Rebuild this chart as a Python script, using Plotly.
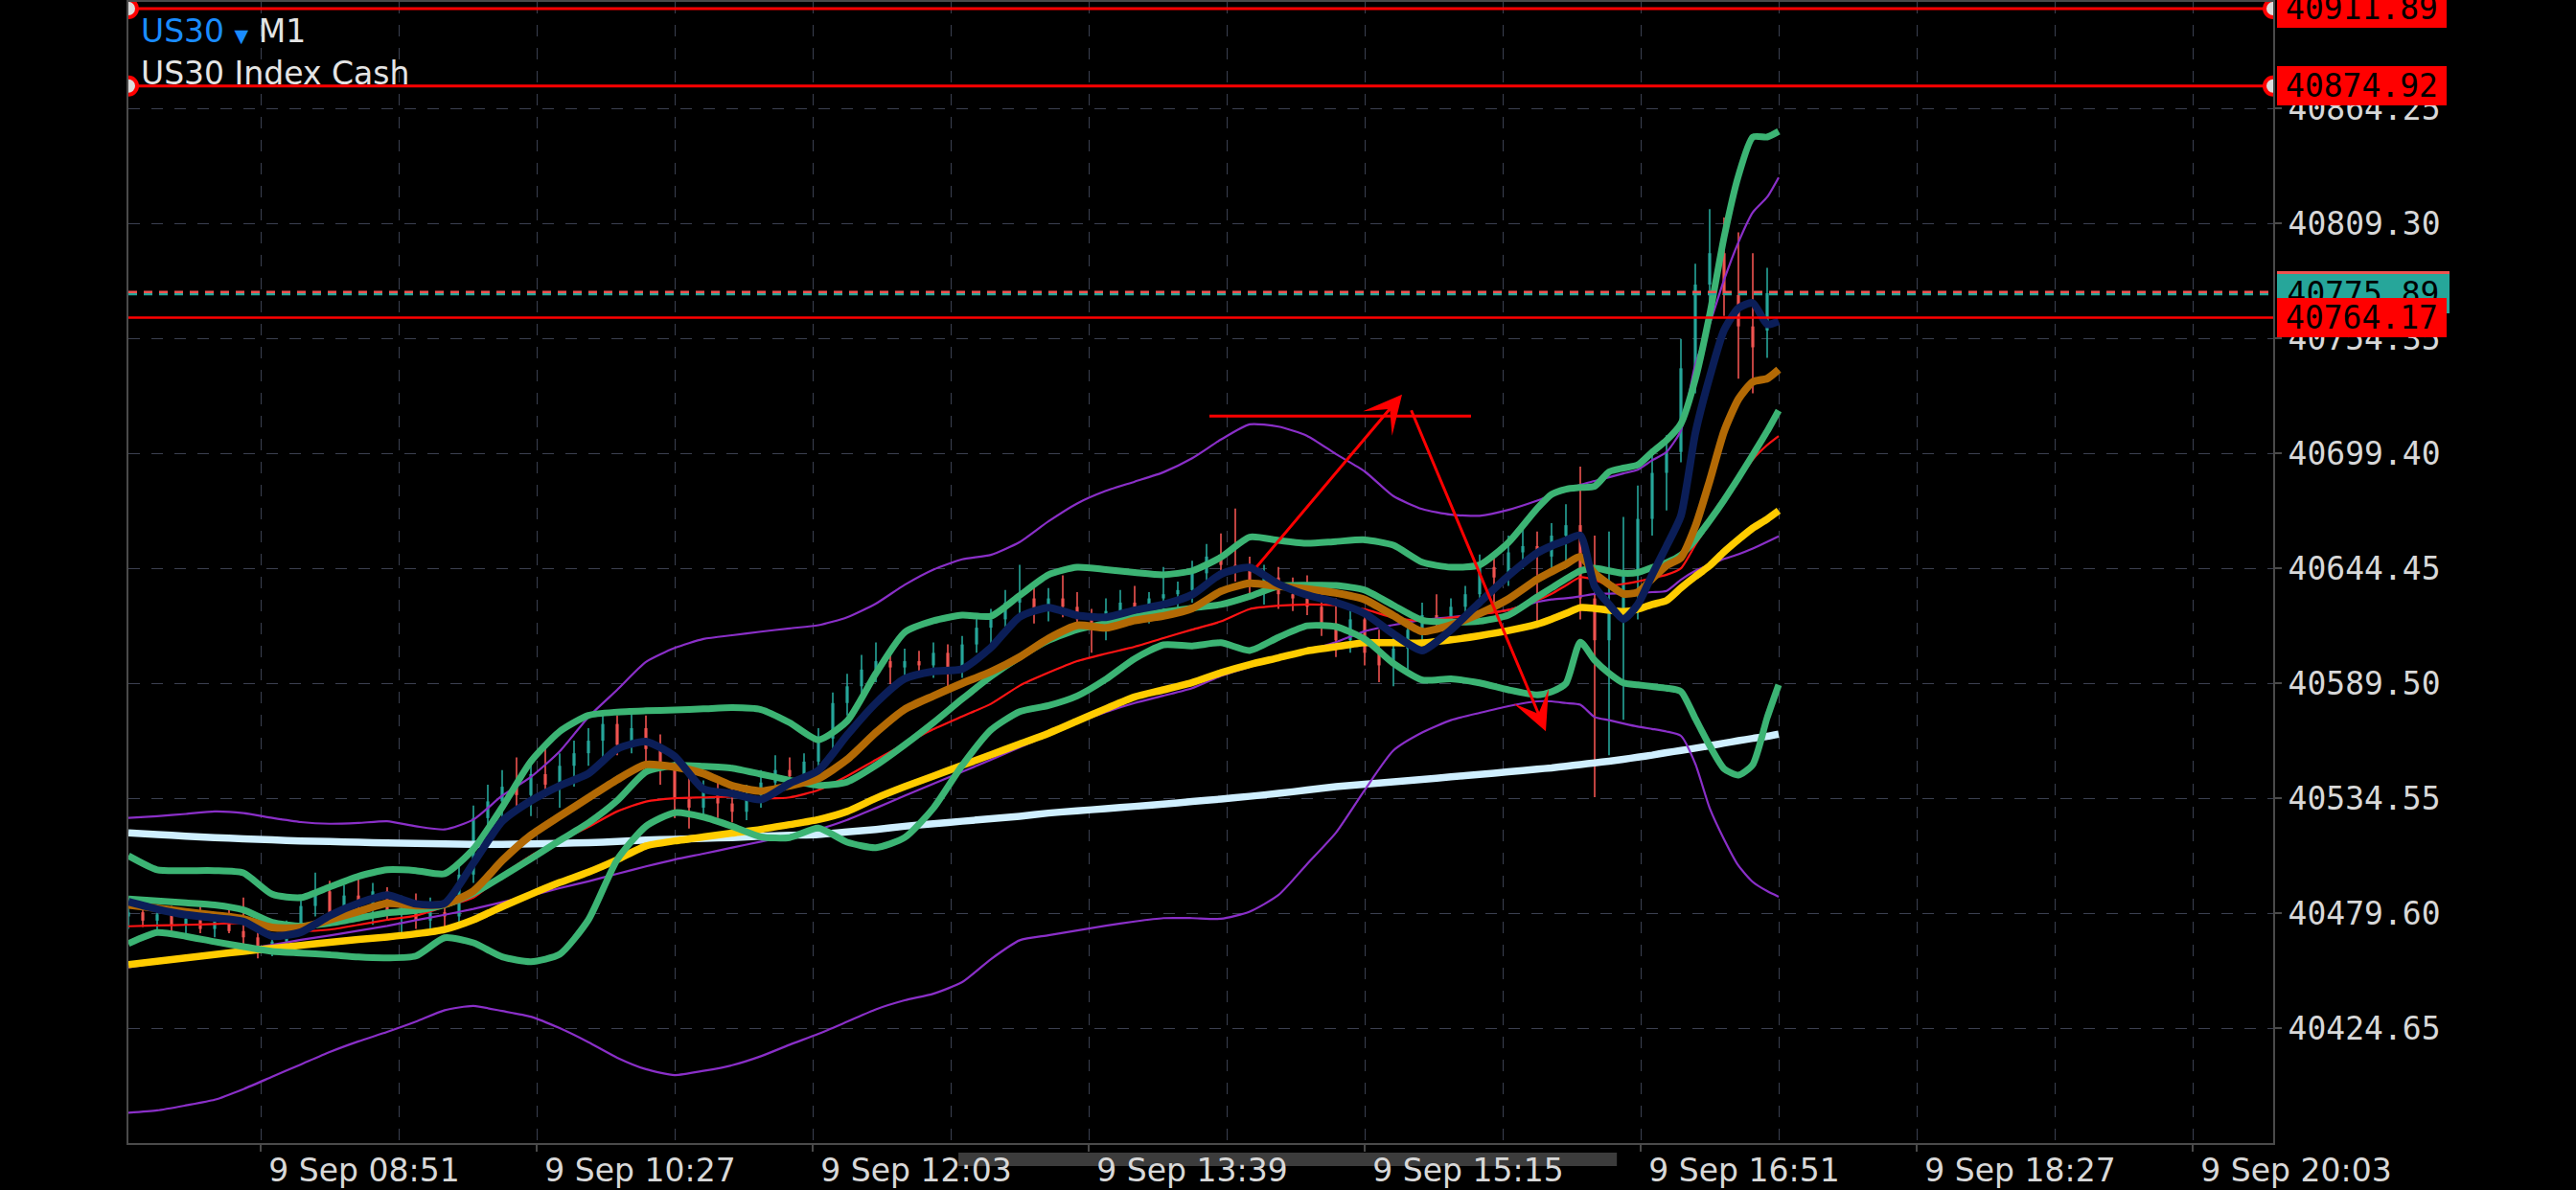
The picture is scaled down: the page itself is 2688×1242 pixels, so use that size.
import pandas as pd
import plotly.graph_objects as go

DAY = "2024-09-09"

# ---------------- indicator sample times ----------------
TIMES = ["08:05","08:15","08:25","08:35","08:45","08:55","09:05","09:15","09:25","09:35",
         "09:45","09:55","10:05","10:15","10:25","10:35","10:45","10:55","11:05","11:15",
         "11:25","11:35","11:45","11:55","12:05","12:15","12:25","12:35","12:45","12:55",
         "13:05","13:15","13:25","13:35","13:45","13:55","14:05","14:15","14:25","14:35",
         "14:45","14:55","15:05","15:15","15:25","15:35","15:45","15:55","16:05","16:15",
         "16:20","16:25","16:30","16:35","16:40","16:45","16:50","16:55","17:00","17:05",
         "17:10","17:15","17:20","17:25","17:30","17:35","17:39"]

MA_SLOW = [40518.0,40517.2,40516.4,40515.7,40515.1,40514.6,40514.1,40513.8,40513.5,40513.1,
           40512.9,40512.7,40512.5,40512.5,40512.7,40512.9,40513.3,40513.8,40514.5,40514.9,
           40515.3,40515.7,40516.3,40516.8,40517.2,40518.4,40519.6,40521.1,40522.3,40523.5,
           40524.7,40525.9,40527.4,40528.5,40529.5,40530.6,40531.7,40532.9,40534.1,40535.4,
           40536.8,40538.4,40540.0,40541.2,40542.3,40543.5,40544.7,40545.9,40547.1,40548.4,
           40549.0,40549.8,40550.6,40551.4,40552.2,40553.1,40554.1,40555.1,40556.3,40557.3,
           40558.4,40559.6,40560.8,40562.0,40563.1,40564.1,40565.1]

MA_YELLOW = [40455.0,40456.6,40458.2,40459.8,40461.3,40462.8,40464.2,40465.6,40467.0,40468.2,
             40469.7,40471.8,40476.4,40482.7,40488.6,40494.2,40499.2,40505.1,40511.7,40514.1,
             40516.0,40517.8,40519.6,40521.9,40524.3,40528.2,40534.5,40540.0,40545.1,40550.2,
             40555.3,40560.4,40565.5,40571.4,40577.3,40582.9,40586.3,40589.8,40594.5,40598.4,
             40601.6,40604.9,40606.9,40608.8,40608.8,40608.7,40610.2,40612.2,40614.6,40617.7,
             40620.1,40622.8,40625.6,40625.2,40624.4,40623.7,40624.8,40627.1,40629.0,40635.0,
             40640.5,40645.6,40652.2,40658.1,40663.6,40667.9,40671.9]

BBW_MID = [40453.6,40455.8,40457.9,40460.1,40462.3,40464.4,40466.8,40468.9,40471.2,40473.5,
           40476.2,40478.8,40481.6,40484.8,40488.0,40491.5,40494.8,40498.4,40501.9,40505.2,
           40508.0,40510.9,40513.8,40516.7,40519.6,40524.1,40529.8,40535.7,40541.4,40547.1,
           40552.9,40558.8,40564.7,40570.6,40575.7,40580.0,40583.5,40587.1,40592.9,40597.3,
           40601.4,40605.1,40609.1,40614.3,40617.3,40619.7,40621.0,40622.6,40624.5,40628.3,
           40629.5,40630.1,40631.0,40632.1,40632.3,40632.5,40632.6,40633.0,40633.6,40638.9,
           40643.2,40646.0,40648.9,40651.1,40653.8,40657.0,40659.7]

BBW_UP = [40525.1,40525.9,40527.0,40528.2,40527.4,40525.1,40523.1,40522.3,40522.7,40523.5,
          40521.1,40519.6,40524.3,40535.7,40544.7,40556.9,40573.3,40586.3,40599.6,40606.3,
          40610.6,40612.4,40614.1,40615.7,40617.2,40621.0,40627.5,40636.5,40643.8,40648.7,
          40650.8,40656.9,40666.8,40675.4,40681.4,40685.8,40690.3,40697.0,40705.9,40713.2,
          40712.1,40707.7,40699.0,40690.7,40678.9,40672.7,40670.0,40669.5,40672.3,40676.7,
          40679.3,40681.8,40684.3,40686.1,40687.9,40689.7,40691.5,40696.0,40700.0,40710.3,
          40741.7,40761.1,40782.2,40800.2,40814.5,40821.8,40831.2]

BBW_LOW = [40384.2,40385.3,40387.7,40390.4,40395.5,40401.4,40407.3,40413.2,40418.3,40422.8,
           40427.7,40433.2,40435.2,40432.8,40430.1,40424.6,40417.9,40410.5,40405.0,40402.2,
           40404.2,40406.9,40411.2,40416.7,40421.9,40427.7,40433.6,40437.9,40441.1,40446.6,
           40457.6,40466.6,40469.0,40471.3,40473.6,40475.6,40477.2,40477.2,40476.9,40480.3,
           40488.2,40503.1,40518.0,40538.4,40557.3,40565.9,40571.8,40575.3,40578.5,40580.8,
           40580.8,40580.0,40579.2,40573.3,40571.8,40570.2,40568.7,40567.6,40566.4,40564.3,
           40551.0,40529.8,40514.9,40502.3,40494.5,40490.1,40487.4]

BB_UP = [40507.0,40500.3,40499.9,40499.9,40498.8,40488.6,40487.0,40492.1,40497.2,40500.3,
         40499.9,40498.4,40510.2,40530.2,40552.1,40566.4,40574.1,40575.7,40576.3,40576.7,
         40577.2,40577.8,40576.9,40570.6,40562.4,40571.4,40594.2,40613.8,40619.3,40622.0,
         40621.5,40631.4,40641.3,40644.9,40643.8,40642.4,40641.3,40643.2,40649.7,40659.3,
         40657.7,40656.3,40657.2,40658.0,40655.4,40647.3,40644.9,40646.0,40656.7,40673.0,
         40679.7,40682.2,40683.0,40683.6,40690.5,40692.3,40693.8,40699.9,40705.6,40713.5,
         40734.7,40765.7,40802.6,40832.0,40850.5,40850.5,40853.2]

BB_MID = [40486.4,40485.4,40484.5,40483.5,40481.1,40475.2,40473.4,40474.8,40477.2,40479.7,
          40480.9,40483.5,40489.0,40497.1,40505.6,40514.3,40522.7,40533.3,40547.1,40550.2,
          40549.8,40548.9,40546.0,40543.1,40540.6,40542.3,40550.2,40560.0,40570.6,40581.9,
          40592.7,40602.0,40609.9,40615.1,40618.1,40621.5,40623.5,40625.4,40627.1,40631.0,
          40635.8,40636.3,40636.2,40634.0,40626.7,40619.6,40618.7,40619.1,40622.0,40630.7,
          40635.0,40639.3,40643.2,40644.4,40643.2,40642.0,40642.4,40644.8,40647.1,40650.7,
          40658.1,40667.2,40677.0,40687.6,40698.6,40709.9,40719.8]

BB_LOW = [40465.0,40470.3,40468.5,40465.9,40463.6,40461.3,40460.5,40459.7,40458.6,40458.2,
          40459.1,40467.8,40465.4,40458.7,40456.4,40459.9,40476.4,40505.1,40521.1,40527.6,
          40525.5,40521.1,40516.0,40515.7,40520.2,40513.5,40510.9,40515.7,40529.8,40550.2,
          40567.1,40575.9,40578.8,40583.4,40591.4,40601.2,40607.8,40607.3,40608.8,40605.1,
          40611.4,40616.9,40616.5,40610.6,40598.9,40591.0,40591.6,40589.6,40586.3,40583.9,
          40585.4,40589.4,40609.1,40600.4,40594.2,40589.6,40588.7,40587.9,40587.1,40585.5,
          40572.6,40559.6,40548.6,40545.5,40550.6,40573.0,40588.7]

MA_FAST = [40485.0,40481.5,40478.8,40477.3,40475.6,40468.6,40470.5,40478.4,40484.3,40488.2,
           40484.0,40484.3,40503.5,40523.5,40533.3,40540.5,40546.3,40558.0,40561.6,40554.5,
           40538.9,40536.7,40533.9,40541.6,40547.8,40564.7,40580.0,40591.6,40595.1,40596.3,
           40606.5,40621.2,40625.6,40621.9,40621.0,40624.4,40627.1,40631.8,40641.6,40644.8,
           40636.9,40631.6,40628.1,40622.8,40613.0,40605.1,40615.0,40628.1,40640.8,40651.7,
           40655.1,40657.7,40660.1,40635.8,40627.1,40620.1,40627.1,40641.3,40655.0,40669.5,
           40708.9,40735.8,40758.2,40768.7,40771.2,40761.0,40762.5]

MA_BROWN = [40483.5,40481.9,40480.2,40478.6,40476.8,40472.7,40472.7,40476.4,40480.3,40484.3,
            40483.2,40483.9,40490.1,40504.7,40516.8,40525.9,40534.7,40543.4,40550.6,40549.4,
            40546.3,40540.5,40537.9,40540.5,40543.9,40553.0,40565.9,40577.0,40583.4,40589.4,
            40594.9,40602.0,40610.8,40617.1,40615.9,40619.5,40621.6,40625.2,40633.4,40637.2,
            40635.8,40634.5,40632.6,40629.5,40621.8,40614.2,40617.3,40622.8,40629.7,40639.1,
            40642.8,40646.3,40650.0,40642.0,40636.7,40632.2,40633.0,40639.4,40645.7,40649.5,
            40664.4,40686.2,40709.8,40725.2,40733.5,40735.1,40739.4]

MA_RED = [40473.3,40473.7,40474.0,40474.4,40474.8,40471.7,40470.9,40471.7,40474.0,40476.4,
          40478.4,40482.7,40487.0,40497.6,40507.0,40514.1,40520.8,40528.2,40532.9,40534.5,
          40534.9,40535.3,40534.5,40534.9,40538.4,40545.1,40552.9,40560.4,40567.5,40573.6,
          40579.6,40588.3,40594.5,40600.0,40603.6,40606.9,40611.0,40615.1,40619.0,40624.9,
          40626.5,40627.1,40626.7,40624.8,40620.8,40619.3,40620.8,40622.4,40624.5,40629.1,
          40632.2,40636.2,40640.1,40638.9,40636.2,40636.9,40638.1,40639.7,40641.3,40644.4,
          40655.6,40666.4,40676.6,40686.5,40696.4,40703.3,40707.6]

# ---------------- 5-minute candles from 08:05 ----------------
OPEN = [40478,40480,40476,40479,40474,40477,40472,40476,40471,40468,40462,40466,40473,40483,40490,
        40480,40488,40484,40490,40479,40483,40476,40480,40478,40498,40525,40533,40540,40536,40546,
        40541,40550,40556,40562,40570,40560,40568,40558,40548,40534,40530,40538,40532,40528,40536,
        40542,40548,40545,40552,40563,40580,40588,40596,40600,40597,40600,40598,40604,40595,40608,
        40616,40620,40628,40630,40624,40630,40626,40620,40616,40624,40628,40623,40630,40632,40634,
        40642,40650,40646,40644,40636,40640,40632,40630,40626,40618,40610,40620,40604,40598,40606,
        40615,40622,40618,40626,40632,40645,40640,40652,40655,40650,40660,40665,40630,40610,40625,
        40642,40668,40690,40700,40740,40780,40795,40775,40760,40758]
HIGH = [40484,40485,40482,40483,40481,40484,40480,40483,40487,40474,40470,40476,40486,40499,40495,
        40493,40497,40494,40492,40488,40489,40487,40486,40502,40531,40541,40548,40554,40552,40559,
        40556,40562,40568,40575,40574,40576,40574,40565,40552,40546,40543,40544,40540,40541,40548,
        40555,40554,40556,40568,40585,40594,40603,40609,40607,40606,40605,40609,40608,40612,40622,
        40625,40634,40646,40636,40635,40641,40633,40625,40630,40634,40636,40633,40645,40638,40648,
        40656,40661,40673,40650,40646,40645,40640,40641,40632,40630,40626,40625,40615,40612,40620,
        40628,40632,40630,40636,40651,40650,40660,40664,40662,40666,40675,40693,40660,40662,40669,
        40684,40700,40708,40754,40790,40816,40812,40805,40795,40788]
LOW = [40472,40473,40470,40471,40469,40470,40468,40470,40464,40458,40459,40461,40469,40478,40474,
       40476,40480,40474,40476,40470,40472,40471,40472,40475,40494,40515,40524,40530,40526,40535,
       40530,40540,40550,40553,40555,40556,40551,40541,40525,40520,40524,40525,40523,40524,40530,
       40539,40540,40541,40546,40558,40574,40584,40590,40589,40593,40594,40592,40588,40592,40604,
       40606,40614,40620,40618,40619,40621,40616,40604,40610,40618,40619,40618,40624,40622,40628,
       40635,40640,40638,40630,40627,40625,40624,40622,40612,40602,40604,40598,40590,40588,40596,
       40610,40614,40615,40618,40627,40628,40636,40644,40616,40644,40648,40620,40535,40555,40572,
       40620,40660,40672,40695,40728,40760,40765,40735,40728,40745]
CLOSE = [40480,40476,40479,40474,40477,40472,40476,40471,40468,40462,40466,40473,40483,40490,40480,
         40488,40484,40490,40479,40483,40476,40480,40478,40498,40525,40533,40540,40536,40546,40541,
         40550,40556,40562,40570,40560,40568,40558,40548,40534,40530,40538,40532,40528,40536,40542,
         40548,40545,40552,40563,40580,40588,40596,40600,40597,40600,40598,40604,40595,40608,40616,
         40620,40628,40630,40624,40630,40626,40620,40616,40624,40628,40623,40630,40632,40634,40642,
         40650,40646,40644,40636,40640,40632,40630,40626,40618,40610,40620,40604,40598,40606,40615,
         40622,40618,40626,40632,40645,40640,40652,40655,40650,40660,40665,40630,40610,40625,40642,
         40668,40690,40700,40740,40780,40795,40775,40760,40750,40775.89]

# ---------------- chart objects ----------------
LEVELS_MARKED = [40911.89, 40874.92]
LEVEL_PLAIN = 40764.17
LAST_PRICE = 40775.89
TREND = ("14:21", "15:52", 40717.1)
ARROWS = [("14:37", 40644.4, "15:28", 40727.5),
          ("15:31", 40720.6, "16:18", 40566.5)]
Y_TICKS = [40424.65, 40479.60, 40534.55, 40589.50, 40644.45, 40699.40, 40754.35, 40809.30, 40864.25]
Y_RANGE = [40369.70, 40915.08]
X_RANGE = [DAY + " 08:05", DAY + " 20:31"]

def ts(hhmm):
    return pd.Timestamp(DAY + " " + hhmm)

x_ind = [ts(s) for s in TIMES]
x_c = list(pd.date_range(DAY + " 08:05", periods=len(OPEN), freq="5min"))

UP_C, DN_C = "#26a69a", "#ef5350"

fig = go.Figure()

# candles (wick + body line segments)
for is_up, col in [(True, UP_C), (False, DN_C)]:
    wx, wy, bx, by = [], [], [], []
    for t, o, h, l, c in zip(x_c, OPEN, HIGH, LOW, CLOSE):
        if (c >= o) != is_up:
            continue
        wx += [t, t, None]; wy += [l, h, None]
        lo, hi = min(o, c), max(o, c)
        if hi - lo < 0.6:
            hi = lo + 0.6
        bx += [t, t, None]; by += [lo, hi, None]
    fig.add_trace(go.Scatter(x=wx, y=wy, mode="lines", line=dict(color=col, width=1.6),
                             hoverinfo="skip", connectgaps=False))
    fig.add_trace(go.Scatter(x=bx, y=by, mode="lines", line=dict(color=col, width=3.2),
                             hoverinfo="skip", connectgaps=False))

def add_line(vals, color, width):
    fig.add_trace(go.Scatter(x=x_ind, y=vals, mode="lines",
                             line=dict(color=color, width=width, shape="spline", smoothing=0.6),
                             hoverinfo="skip"))

PURPLE = "#8a2fc8"
add_line(MA_SLOW, "#cfefff", 7.5)
add_line(BBW_UP, PURPLE, 2.2)
add_line(BBW_LOW, PURPLE, 2.2)
add_line(BBW_MID, PURPLE, 2.2)
add_line(MA_YELLOW, "#ffcc00", 7.5)
add_line(MA_RED, "#ff1414", 2.2)
GREEN = "#3cb474"
add_line(BB_UP, GREEN, 7)
add_line(BB_MID, GREEN, 7)
add_line(BB_LOW, GREEN, 7)
add_line(MA_BROWN, "#b36a05", 8)
add_line(MA_FAST, "#0b1e58", 8)

# trend line drawing
fig.add_trace(go.Scatter(x=[ts(TREND[0]), ts(TREND[1])], y=[TREND[2], TREND[2]], mode="lines",
                         line=dict(color="#ff0000", width=3), hoverinfo="skip"))

# horizontal levels with end handles
for lv in LEVELS_MARKED:
    fig.add_trace(go.Scatter(x=X_RANGE, y=[lv, lv], mode="lines+markers",
                             line=dict(color="#ff0000", width=3),
                             marker=dict(size=18, color="#dcdcdc", line=dict(color="#ff0000", width=4)),
                             hoverinfo="skip", cliponaxis=True))
fig.add_trace(go.Scatter(x=X_RANGE, y=[LEVEL_PLAIN, LEVEL_PLAIN], mode="lines",
                         line=dict(color="#ff0000", width=2.5), hoverinfo="skip"))

# last price dashed line (two-tone)
fig.add_shape(type="line", xref="paper", x0=0, x1=1, yref="y", ysizemode="pixel",
              yanchor=LAST_PRICE, y0=-1.2, y1=-1.2, line=dict(color="#26a69a", width=2.4, dash="9px,7px"),
              layer="above")
fig.add_shape(type="line", xref="paper", x0=0, x1=1, yref="y", ysizemode="pixel",
              yanchor=LAST_PRICE, y0=1.2, y1=1.2, line=dict(color="#ef5350", width=2.4, dash="9px,7px"),
              layer="above")

# arrows
for (t0, p0, t1, p1) in ARROWS:
    fig.add_annotation(x=ts(t1), y=p1, ax=ts(t0), ay=p0, xref="x", yref="y", axref="x", ayref="y",
                       text="", showarrow=True, arrowhead=3, arrowsize=2.2, arrowwidth=3,
                       arrowcolor="#ff0000", standoff=0)

# price tags on the right
LABEL_FONT = dict(family="DejaVu Sans Mono", size=33, color="#000000")
def tag(level, bg, shift=0, w=177):
    fig.add_annotation(xref="paper", x=1, xanchor="left", xshift=4, yref="y", y=level,
                       yanchor="middle", yshift=shift, text=f"{level:.2f}", showarrow=False,
                       bgcolor=bg, font=LABEL_FONT, width=w, height=41, borderpad=0,
                       borderwidth=0, align="center")

tag(LAST_PRICE, "#ef5350", shift=2, w=180)
tag(LAST_PRICE, "#26a69a", shift=-1, w=180)
tag(LEVEL_PLAIN, "#ff0000")
for lv in LEVELS_MARKED:
    tag(lv, "#ff0000")

# header text
fig.add_annotation(xref="paper", yref="paper", x=0, y=1, xanchor="left", yanchor="top",
                   xshift=11, yshift=-9, showarrow=False, align="left",
                   text="<span style='color:#1a8cff'>US30</span> <span style='color:#1a8cff;font-size:19px'>\u25BC</span> M1",
                   font=dict(family="DejaVu Sans", size=33, color="#e4e4e4"))
fig.add_annotation(xref="paper", yref="paper", x=0, y=1, xanchor="left", yanchor="top",
                   xshift=11, yshift=-53, showarrow=False, align="left",
                   text="US30 Index Cash",
                   font=dict(family="DejaVu Sans", size=33, color="#e4e4e4"))

# scroll bar under the time axis
fig.add_shape(type="rect", xref="paper", yref="paper", x0=0.387, x1=0.694, y0=-0.0202, y1=-0.0084,
              fillcolor="#3c3c3c", line=dict(width=0), layer="below")

GRID = "#3b4050"
fig.update_layout(
    width=2688, height=1242,
    margin=dict(l=134, r=316, t=2, b=49, autoexpand=False),
    paper_bgcolor="#000000", plot_bgcolor="#000000",
    showlegend=False, hovermode=False,
    xaxis=dict(type="date", range=X_RANGE, showline=True, linecolor="#4a4a4a", linewidth=2, mirror=True,
               automargin=False,
               ticks="outside", ticklen=7, tickwidth=2, tickcolor="#4a4a4a",
               tick0=DAY + " 08:51", dtick=96 * 60000, tickformat="%-d %b %H:%M",
               tickfont=dict(family="DejaVu Sans", size=33, color="#d8d8d8"),
               ticklabelshift=108, ticklabelstandoff=-9,
               showgrid=True, gridcolor=GRID, gridwidth=1, griddash="12px,12px",
               zeroline=False,
               minor=dict(tick0=DAY + " 08:51", dtick=48 * 60000, showgrid=True, gridcolor=GRID,
                          griddash="12px,12px", gridwidth=1, ticks="")),
    yaxis=dict(side="right", range=Y_RANGE, tickvals=Y_TICKS, tickformat=".2f",
               automargin=False,
               showline=True, linecolor="#4a4a4a", linewidth=2, mirror=True,
               ticks="outside", ticklen=7, tickwidth=2, tickcolor="#4a4a4a",
               tickfont=dict(family="DejaVu Sans Mono", size=33, color="#d8d8d8"),
               showgrid=True, gridcolor=GRID, gridwidth=1, griddash="12px,12px", zeroline=False),
)

fig.write_html("out.html", config={"displayModeBar": False},
               post_script="document.body.style.margin='0px';")
